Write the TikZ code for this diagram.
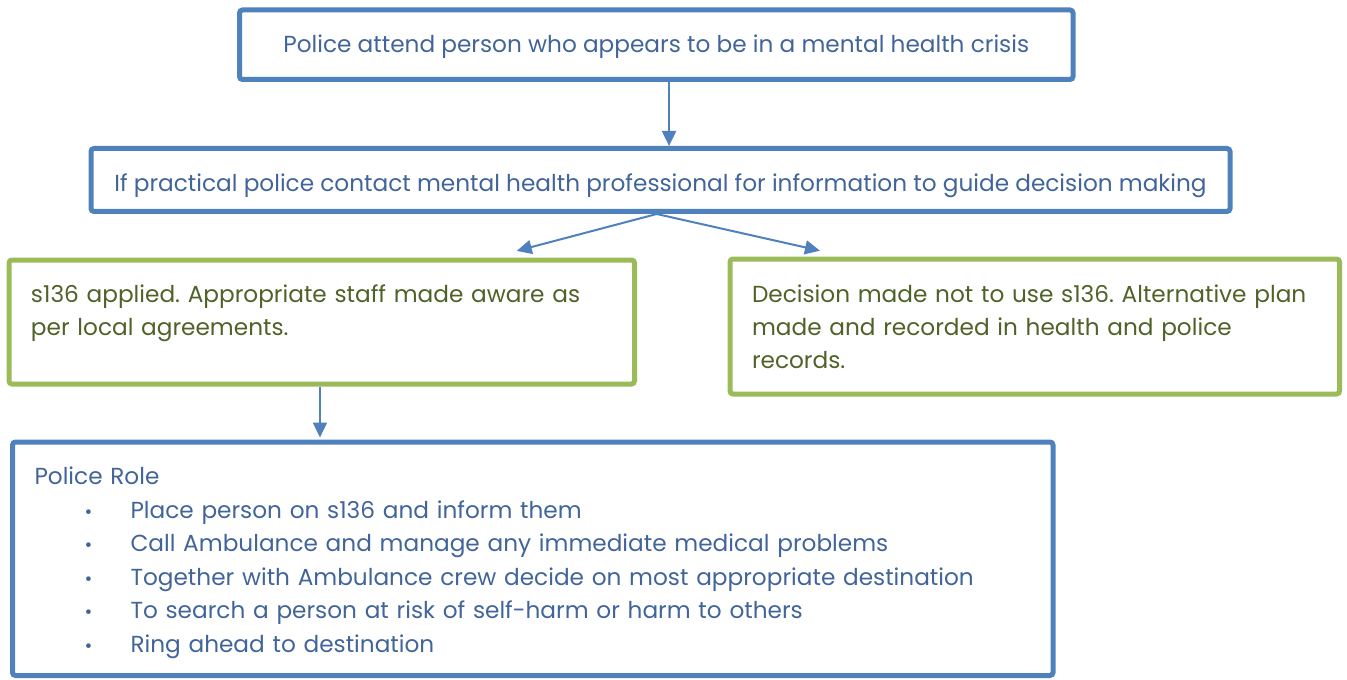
\documentclass[tikz,border=0pt]{standalone}
\usepackage{fontspec}
\setmainfont{Poppins}
\usepackage{xcolor}
\usepackage{tikz}
\usetikzlibrary{arrows.meta,positioning}
\definecolor{boxblue}{HTML}{4F81BD}
\definecolor{boxgreen}{HTML}{9BBB59}
\definecolor{textblue}{HTML}{41659A}
\definecolor{textgreen}{HTML}{4F6228}
\newcommand{\rolebullet}{\makebox[48pt][l]{\hspace{25pt}{\fontsize{9.5}{9.5}\selectfont\textbullet}}}
\frenchspacing

\begin{document}
\begin{tikzpicture}[
  x=0.5pt, y=-0.5pt,
  font=\fontsize{11.6}{16.6pt}\selectfont,
  bluebox/.style={draw=boxblue, line width=2.5pt, rounded corners=1.5pt, text=textblue, inner sep=0pt},
  greenbox/.style={draw=boxgreen, line width=2.5pt, rounded corners=1.5pt, text=textgreen, inner sep=0pt},
  arr/.style={-{Triangle[length=7.5pt,width=7pt]}, line width=1pt, boxblue}
]
\useasboundingbox (0,0) rectangle (1347,679);
\node[bluebox, minimum width=416.75pt, text height=21.2pt, text depth=13.55pt] (attend) at (656.25,44.75)
  {Police attend person who appears to be in a mental health crisis};
\node[bluebox, minimum width=569.5pt, text height=21.45pt, text depth=10.05pt] (contact) at (660.5,180)
  {If practical police contact mental health professional for information to guide decision making};
\node[greenbox, align=left, inner xsep=11pt, text width=290.75pt, minimum height=62pt] (applied) at (321.75,322)
  {s136 applied. Appropriate staff made aware as\\per local agreements.\\[-5pt]\mbox{}};
\node[greenbox, align=left, inner xsep=11pt, text width=282.75pt, minimum height=67.5pt] (notused) at (1034.75,326.5)
  {Decision made not to use s136. Alternative plan\\made and recorded in health and police\\records.};
\node[bluebox, align=left, inner xsep=11pt, text width=498.25pt, text height=21.2pt, text depth=95.55pt,
      font=\fontsize{11.6}{16.8pt}\selectfont] (role) at (532.75,558.75)
  {Police Role\\
   \rolebullet Place person on s136 and inform them\\
   \rolebullet Call Ambulance and manage any immediate medical problems\\
   \rolebullet Together with Ambulance crew decide on most appropriate destination\\
   \rolebullet To search a person at risk of self-harm or harm to others\\
   \rolebullet Ring ahead to destination};
\draw[arr] ([xshift=6.4pt]attend.south) -- ([xshift=6.4pt]attend.south |- contact.north);
\draw[arr] ([xshift=-1.9pt]contact.south) -- ([xshift=97.5pt,yshift=3.3pt]applied.north);
\draw[arr] ([xshift=-1.9pt]contact.south) -- ([xshift=-107.4pt,yshift=2.9pt]notused.north);
\draw[arr] ([xshift=-0.9pt]applied.south) -- ([xshift=-0.9pt,yshift=1pt]applied.south |- role.north);
\end{tikzpicture}
\end{document}
